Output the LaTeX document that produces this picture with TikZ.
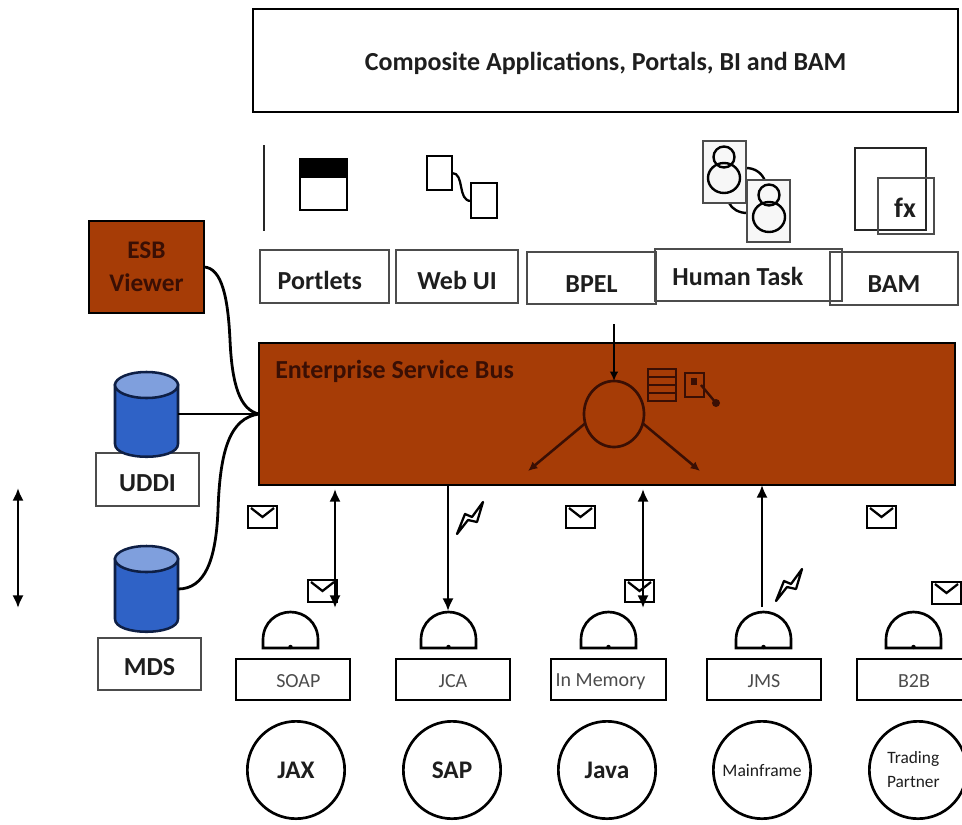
\documentclass[tikz,border=0pt]{standalone}
\usepackage{fontspec}
\setmainfont{Carlito}
\usetikzlibrary{arrows.meta,shapes.geometric}
\definecolor{esbfill}{HTML}{A63C06}
\definecolor{esbink}{HTML}{3A0F04}
\definecolor{cylbody}{HTML}{2F62C6}
\definecolor{cyltop}{HTML}{7F9FDD}
\definecolor{cylline}{HTML}{0E1F45}
\definecolor{lbl}{HTML}{1E1E1E}
\newcommand{\dn}[2]{\raisebox{-#1}[\height][\depth]{#2}}
\tikzset{
  x=0.75pt,y=-0.75pt,
  plainbox/.style={draw=black,line width=1.8pt,fill=white,inner sep=0pt,outer sep=0pt,font=\bfseries\fontsize{19.5}{22}\selectfont,text=lbl},
  thinbox/.style={plainbox,draw=black!70,line width=1pt},
  adapter/.style={plainbox,line width=1.8pt,font=\fontsize{15}{17}\selectfont,text=black!70},
  app/.style={draw=black,line width=2pt,fill=white,circle,inner sep=0pt,outer sep=0pt,minimum size=73pt,align=center,text=lbl},
  link/.style={line width=2.1pt,black},
  flow/.style={line width=1.9pt,black,-{Latex[length=9.5pt,width=8.5pt]}},
  flowboth/.style={line width=1.9pt,black,{Latex[length=9.5pt,width=8.5pt]}-{Latex[length=9.5pt,width=8.5pt]}},
  inner/.style={line width=1.9pt,esbink,-{Latex[length=7pt,width=6.5pt]}},
  icon/.style={line width=2.2pt,black},
  envline/.style={line width=2pt,black,fill=white},
  gateline/.style={line width=2pt,black,fill=white},
}
\newcommand{\bx}[7][]{%
  \pgfmathsetlengthmacro{\bw}{(#5-#3)*0.75pt}%
  \pgfmathsetlengthmacro{\bh}{(#6-#4)*0.75pt}%
  \node[#2,minimum width=\bw,minimum height=\bh,#1] (#7) at ({(#3+#5)/2},{(#4+#6)/2}) }
\newcommand{\envelope}[2]{%
  \draw[envline] (#1,#2) rectangle ++(29,22);
  \draw[line width=1.7pt,black] (#1+3,#2+2) -- (#1+14.5,#2+11) -- (#1+26,#2+2);}
\newcommand{\gate}[2]{% left x, name: semicircle, base at y=648
  \draw[gateline] (#1,648) -- (#1,640) .. controls (#1,622) and (#1+14,612) .. (#1+27.5,612)
     .. controls (#1+41,612) and (#1+55,622) .. (#1+55,640) -- (#1+55,648) -- cycle;
  \fill (#1+27.5,647) circle[radius=2.2];
  \coordinate (#2) at (#1+27.5,612);}
\newcommand{\bolt}[2]{%
  \draw[line width=1.7pt,line join=round,black,fill=white,shift={(#1,#2)}]
    (0,32) -- (8,12) -- (15,15) -- (26,0) -- (20,20) -- (11,18) -- cycle;}
\newcommand{\cyl}[3]{% y top, y bottom, name
  \draw[line width=1.9pt,cylline,fill=cylbody] (115,#2-13) .. controls (115,#2+4) and (178,#2+4) .. (178,#2-13) -- (178,#1+13) -- (115,#1+13) -- cycle;
  \draw[line width=1.9pt,cylline,fill=cyltop] (146.5,#1+13) ellipse[x radius=31.5,y radius=13];
  \coordinate (#3) at (178,{(#1+#2)/2});}
\begin{document}
\begin{tikzpicture}
\useasboundingbox (0,0) rectangle (962,824);
\clip (0,0) rectangle (962,824);
% top band
\bx[line width=2.2pt]{plainbox}{253}{9}{958}{112}{top} {\dn{2.5pt}{Composite Applications, Portals, BI and BAM}};
% icons row
\draw[line width=1.9pt,black!85] (264,145) -- (264,231);
\draw[icon,fill=white] (300,159) rectangle (347,210);
\fill[black] (300,159) rectangle (347,178);
\draw[icon] (427,156) rectangle (452,190);
\draw[icon] (471,183) rectangle (497,218);
\draw[line width=1.7pt] (452,173) .. controls (465,173) and (457,201) .. (471,201);
% human task icon
\draw[line width=1.8pt] (746,168) .. controls (755,168) and (762,173) .. (765,181);
\draw[line width=1.8pt] (729,203) .. controls (732,209) and (739,213) .. (747,213);
\draw[line width=0.9pt,black!70,fill=black!3] (703,141) rectangle (746,203);
\draw[line width=1.8pt] (724,178) ellipse[x radius=16,y radius=15];
\draw[line width=1.8pt] (724,157) circle[radius=10.5];
\draw[line width=0.9pt,black!70,fill=black!3] (747,180) rectangle (790,242);
\draw[line width=1.8pt] (769,217) ellipse[x radius=16,y radius=15];
\draw[line width=1.8pt] (769,195) circle[radius=10.5];
% BAM icon
\draw[line width=2.2pt,black!85] (855,148) rectangle (926,230);
\draw[line width=1.1pt,black!70] (878,178) rectangle (934,234);
\node[font=\bfseries\fontsize{21}{23}\selectfont,text=lbl,inner sep=0pt] (fx) at (905,208) {fx};
% service boxes
\bx{thinbox}{527}{252}{656}{304}{bpel} {\dn{4.5pt}{BPEL}};
\bx{thinbox}{830}{252}{958}{305}{bam} {\dn{4.5pt}{BAM}};
\bx[fill=none]{thinbox}{655}{249}{842}{301}{human} {\dn{1pt}{Human Task}\hspace*{16pt}};
\bx{thinbox}{260}{250}{389}{303}{portlets} {\dn{3pt}{Portlets}\hspace*{7pt}};
\bx{thinbox}{396}{250}{518}{303}{webui} {\dn{3pt}{Web UI}};
% ESB
\bx[fill=esbfill,line width=2pt]{plainbox}{259}{343}{955}{485}{esb} {};
\node[font=\bfseries\fontsize{19.5}{22}\selectfont,text=esbink,anchor=west,inner sep=0pt] (esblabel) at (275,371) {Enterprise Service Bus};
\node[draw=esbink,line width=2pt,ellipse,minimum width=45pt,minimum height=49.5pt,inner sep=0pt,outer sep=0pt] (router) at (614,414) {};
\coordinate (bpelin) at (614,324);
\draw[line width=1.9pt,black,-{Latex[length=7pt,width=6.5pt]}] (bpelin) -- (router.north);
\coordinate (leftout) at (528,471);
\coordinate (rightout) at (700,471);
\draw[inner] (router.198) -- (leftout);
\draw[inner] (router.342) -- (rightout);
% table + key icons
\draw[line width=1.7pt,esbink] (648,369) rectangle (676,401);
\foreach \yy in {377,385,393} \draw[line width=1.4pt,esbink] (648,\yy) -- (676,\yy);
\draw[line width=1.9pt,esbink] (685,373) rectangle (704,397);
\fill[esbink] (691,378) rectangle (697,385);
\draw[line width=1.8pt,esbink] (701,385) -- (716,403);
\fill[esbink] (716,403) circle[radius=4];
% left column
\bx[fill=esbfill,line width=1.8pt,font=\bfseries\fontsize{19}{25}\selectfont,text=esbink,align=center]{plainbox}{89}{221}{204}{313}{viewer} {ESB\\Viewer};
\bx{thinbox}{96}{453}{199}{506}{uddi} {\dn{2.5pt}{UDDI}};
\cyl{372}{457}{uddicyl}
\bx{thinbox}{98}{638}{201}{690}{mds} {\dn{2.5pt}{MDS}};
\cyl{546}{632}{mdscyl}
\coordinate (uddiout) at (178,414);
\coordinate (mdsout) at (178,589);
\draw[link] (viewer.east) .. controls (222,268) and (228,298) .. (230,340)
   .. controls (232,385) and (240,410) .. (esb.west);
\draw[link] (uddiout) -- (esb.west);
\draw[link] (mdsout) .. controls (205,589) and (216,560) .. (218,510)
   .. controls (220,450) and (230,418) .. (esb.west);
\coordinate (scaletop) at (18,488);
\coordinate (scalebot) at (18,608);
\draw[flowboth] (scaletop) -- (scalebot);
% gates
\gate{263}{gsoap}
\gate{421}{gjca}
\gate{581}{gmem}
\gate{736}{gjms}
\gate{886}{gbtb}
% envelopes
\envelope{248}{506}
\envelope{308}{580}
\envelope{566}{506}
\envelope{625}{580}
\envelope{867}{506}
\envelope{932}{582}
% connectors
\coordinate (asoap) at (335,608);
\coordinate (amem) at (643,608);
\coordinate (ajms) at (762,607);
\coordinate (ajca) at (448,611);
\draw[flowboth] (asoap |- esb.south) ++(0,4) -- (asoap);
\draw[flow] (ajca |- esb.south) -- (ajca);
\draw[flowboth] (amem |- esb.south) ++(0,4) -- (amem);
\draw[flow] (ajms) -- (ajms |- esb.south);
\bolt{457}{502}
\bolt{776}{569}
% adapters
\bx{adapter}{236}{659}{350}{700}{soap} {\hspace*{8pt}\dn{1.5pt}{SOAP}};
\bx{adapter}{396}{659}{510}{700}{jca} {\dn{1.5pt}{JCA}};
\bx{adapter}{551}{659}{666}{700}{mem} {\dn{1.5pt}{In Memory}\hspace*{12pt}};
\bx{adapter}{707}{659}{821}{700}{jms} {\dn{1.5pt}{JMS}};
\bx{adapter}{857}{659}{975}{700}{btbbox} {};
\node[font=\fontsize{15}{17}\selectfont,text=black!70,inner sep=0pt] (btb) at (914,681) {B2B};
% applications
\node[app,font=\bfseries\fontsize{19}{22}\selectfont] (jax) at (296,770) {JAX};
\node[app,font=\bfseries\fontsize{19}{22}\selectfont] (sap) at (452,770) {SAP};
\node[app,font=\bfseries\fontsize{19}{22}\selectfont] (java) at (607,770) {Java};
\node[app,font=\fontsize{13.2}{15}\selectfont] (main) at (762,770) {Mainframe};
\node[app,font=\fontsize{13}{18}\selectfont] (trade) at (918,770) {Trading\hspace*{7pt}\\Partner\hspace*{7pt}};
\end{tikzpicture}
\end{document}
